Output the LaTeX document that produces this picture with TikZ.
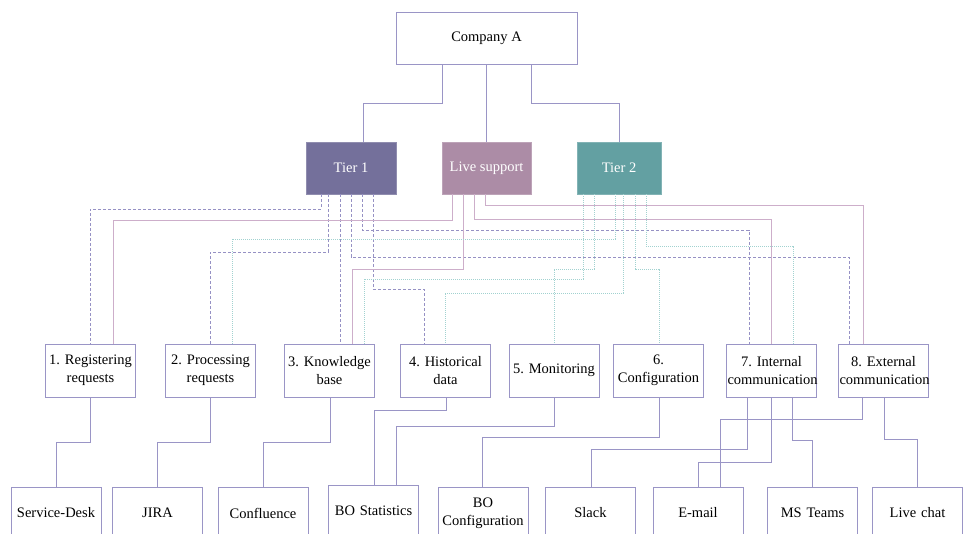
\documentclass[tikz,border=0pt]{standalone}
\usepackage{fontspec}
\setmainfont{Liberation Serif}
\frenchspacing
\definecolor{boxline}{HTML}{9A95C6}
\definecolor{tonecol}{HTML}{74709B}
\definecolor{livecol}{HTML}{AC8CA6}
\definecolor{ttwocol}{HTML}{63A0A2}
\definecolor{livelink}{HTML}{CDAECA}
\definecolor{tonelink}{HTML}{9691C4}
\definecolor{ttwolink}{HTML}{A2D2D0}
\tikzset{
  txt/.style = {align=center, inner sep=1pt, font=\fontsize{14.5}{18}\selectfont},
  box/.style = {txt, draw=boxline, line width=0.8pt, fill=white,
    text width=88pt, minimum height=53pt},% task boxes
  tool/.style = {box, minimum height=52pt},% tool boxes (bottom row)
  tier/.style = {txt, draw=#1!80!white, fill=#1, text=white,
    minimum height=52pt, line width=0.6pt},% coloured team boxes
  link/.style = {draw=boxline, line width=0.8pt},
  tonewire/.style = {draw=tonelink, line width=0.8pt, dash pattern=on 3pt off 2pt},
  livewire/.style = {draw=livelink, line width=0.9pt},
  ttwowire/.style = {draw=ttwolink, line width=0.9pt, dash pattern=on 1pt off 1pt}
}
\begin{document}
\begin{tikzpicture}[x=1pt,y=-1pt]
\useasboundingbox (0,0) rectangle (965,534);
\clip (0,0) rectangle (965,534);

% top and team level
\node [txt, draw=boxline, line width=0.8pt, minimum width=181pt, minimum height=52pt] (company) at (486.5,38) {Company A};
\node [tier=tonecol, minimum width=90pt] (tierone) at (351,168) {Tier 1};
\node [tier=livecol, minimum width=89pt] (live) at (486.5,168) {Live support};
\node [tier=ttwocol, minimum width=84pt] (tiertwo) at (619,168) {Tier 2};

% tasks
\node [box] (reg)  at (90.5,370.5)  {1. Registering\\requests};
\node [box] (proc) at (210.5,370.5) {2. Processing\\requests};
\node [box] (know) at (329.5,370.5) {3. Knowledge\\base};
\node [box] (hist) at (445.5,370.5) {4. Historical\\data};
\node [box] (mon)  at (554,370.5)   {5. Monitoring};
\node [box] (conf) at (658.5,370.5) {6.\\Configuration};
\node [box] (int)  at (771.5,370.5) {7. Internal\\communication};
\node [box] (ext)  at (883.5,370.5) {8. External\\communication};

% tools
\node [tool] (sd)     at (56,513)    {Service-Desk};
\node [tool] (jira)   at (157.5,513) {JIRA};
\node [tool] (confl)  at (263,513)   {Confluence};
\node [tool] (bostat) at (373.5,511) {BO Statistics};
\node [tool] (boconf) at (483,513)   {BO\\Configuration};
\node [tool] (slack)  at (590.5,513) {Slack};
\node [tool] (email)  at (698,513)   {E-mail};
\node [tool] (teams)  at (812.5,513) {MS Teams};
\node [tool] (chat)   at (917.5,513) {Live chat};

% company -> teams
\draw [link] (company.south -| 442,0) |- (363,103) -- (tierone.north -| 363,0);
\draw [link] (company.south -| 486,0) -- (live.north -| 486,0);
\draw [link] (company.south -| 531,0) |- (619,103) -- (tiertwo.north -| 619,0);

% teams -> tasks
\foreach \xa/\ya/\dst/\xb in {321/209/reg/90, 328/252/proc/210, 340/270/know/340,
    351/257/ext/849, 362/230/int/749, 373/289/hist/424}
  \draw [tonewire] (tierone.south -| \xa,0) |- (\xb,\ya) -- (\dst.north -| \xb,0);
\foreach \xa/\ya/\dst/\xb in {452/220/reg/113, 463/269/know/352,
    474/219/int/771, 485/205/ext/863}
  \draw [livewire] (live.south -| \xa,0) |- (\xb,\ya) -- (\dst.north -| \xb,0);
\foreach \xa/\ya/\dst/\xb in {583/279/know/364, 594/269/mon/554, 615/239/proc/232,
    623/293/hist/445, 635/269/conf/659, 646/246/int/793}
  \draw [ttwowire] (tiertwo.south -| \xa,0) |- (\xb,\ya) -- (\dst.north -| \xb,0);

% tasks -> tools
\foreach \src/\xa/\ya/\dst/\xb in {reg/90/442/sd/56, proc/210/442/jira/157,
    know/330/442/confl/263, hist/446/410/bostat/374, mon/554/426/bostat/396,
    conf/659/437/boconf/482, int/747/449/slack/591, int/771/462/email/698,
    int/792/440/teams/812, ext/862/419/email/720, ext/884/439/chat/917}
  \draw [link] (\src.south -| \xa,0) |- (\xb,\ya) -- (\dst.north -| \xb,0);
\end{tikzpicture}
\end{document}
